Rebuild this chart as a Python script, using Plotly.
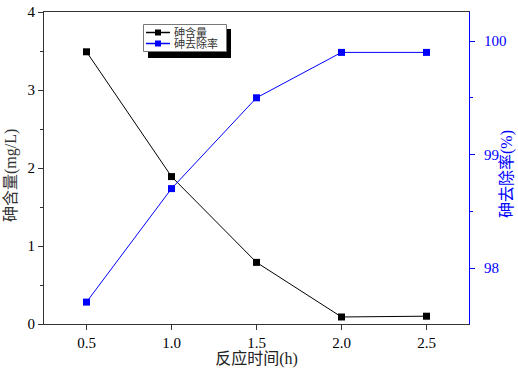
import plotly.graph_objects as go

time_h = [0.5, 1.0, 1.5, 2.0, 2.5]
arsenic_content = [3.49, 1.89, 0.79, 0.09, 0.10]
removal_rate = [97.70, 98.70, 99.50, 99.90, 99.90]

x_ticks = [0.5, 1.0, 1.5, 2.0, 2.5]
x_ticklabels = ["0.5", "1.0", "1.5", "2.0", "2.5"]
left_ticks = [0, 1, 2, 3, 4]
right_ticks = [98, 99, 100]
series_names = ["砷含量", "砷去除率"]
x_title = "反应时间(h)"
left_title = "砷含量(mg/L)"
right_title = "砷去除率(%)"

FONT = "Liberation Serif, Noto Sans CJK SC, serif"
BLUE = "#0000ff"
COLORS = ["black", BLUE]

W, H = 518, 368
L, T = 44, 12
PW, PH = 425, 312


def px(x):  # window pixel -> paper x
    return (x - L) / PW


def py(y):  # window pixel -> paper y
    return (T + PH - y) / PH


fig = go.Figure()
fig.add_trace(go.Scatter(
    x=time_h, y=arsenic_content, name=series_names[0], mode="lines+markers",
    line=dict(color=COLORS[0], width=1),
    marker=dict(symbol="square", size=7, color=COLORS[0]),
    yaxis="y"))
fig.add_trace(go.Scatter(
    x=time_h, y=removal_rate, name=series_names[1], mode="lines+markers",
    line=dict(color=COLORS[1], width=1),
    marker=dict(symbol="square", size=7, color=COLORS[1]),
    yaxis="y2"))

fig.update_layout(
    width=W, height=H,
    margin=dict(l=L, r=W - L - PW, t=T, b=H - T - PH, autoexpand=False),
    paper_bgcolor="white", plot_bgcolor="rgba(0,0,0,0)",
    font=dict(family=FONT, size=15, color="black"),
    showlegend=False,
    xaxis=dict(range=[0.25, 2.75], tickvals=x_ticks, ticktext=x_ticklabels,
               showline=True, linecolor="#333333", linewidth=1, mirror=True,
               ticks="outside", ticklen=5, tickcolor="#333333",
               showgrid=False, zeroline=False, automargin=False,
               ticklabeloverflow="allow",
               title=dict(text=x_title, standoff=0, font=dict(size=16, color="#222222"))),
    yaxis=dict(range=[0, 4.0001], tickvals=left_ticks,
               showline=True, linecolor="#333333", linewidth=1,
               ticks="outside", ticklen=5, tickcolor="#333333",
               minor=dict(dtick=0.5, ticks="outside", ticklen=3, tickcolor="#333333"),
               showgrid=False, zeroline=False, automargin=False,
               ticklabeloverflow="allow"),
    yaxis2=dict(range=[97.507, 100.256], tickvals=right_ticks,
                overlaying="y", side="right",
                showline=True, linecolor=BLUE, linewidth=1,
                ticks="outside", ticklen=5, tickcolor=BLUE,
                tickfont=dict(color=BLUE), ticklabelstandoff=6,
                minor=dict(dtick=0.5, ticks="outside", ticklen=3, tickcolor=BLUE),
                showgrid=False, zeroline=False, automargin=False,
                ticklabeloverflow="allow"),
)

annotations = [
    dict(xref="paper", yref="paper", x=px(11), y=py(176), textangle=-90,
         xanchor="center", yanchor="middle", showarrow=False,
         text=left_title, font=dict(size=16, color="#333333", family=FONT)),
    dict(xref="paper", yref="paper", x=px(507), y=py(174), textangle=-90,
         xanchor="center", yanchor="middle", showarrow=False,
         text=right_title, font=dict(size=16, color=BLUE, family=FONT)),
]

# hand-drawn legend in the reference's style (box with drop shadow)
shapes = [
    dict(type="rect", xref="paper", yref="paper",
         x0=px(148), x1=px(231), y0=py(58), y1=py(29),
         fillcolor="black", line=dict(width=0), layer="above"),
    dict(type="rect", xref="paper", yref="paper",
         x0=px(143.5), x1=px(226.5), y0=py(51.5), y1=py(24.5),
         fillcolor="white", line=dict(width=1, color="#777777"), layer="above"),
]
for i, (name, col) in enumerate(zip(series_names, COLORS)):
    yc = 32.5 + 11 * i
    shapes.append(dict(type="line", xref="paper", yref="paper",
                       x0=px(146), x1=px(170), y0=py(yc), y1=py(yc),
                       line=dict(color=col, width=1.5), layer="above"))
    shapes.append(dict(type="rect", xref="paper", yref="paper",
                       x0=px(155), x1=px(161), y0=py(yc + 3), y1=py(yc - 3),
                       fillcolor=col, line=dict(width=0), layer="above"))
    annotations.append(dict(xref="paper", yref="paper", x=px(173), y=py(yc),
                            xanchor="left", yanchor="middle", showarrow=False,
                            borderpad=0,
                            text=name, font=dict(size=11, color="#333333", family=FONT)))
fig.update_layout(shapes=shapes, annotations=annotations)

# remove the browser's default 8px body margin so the figure fills the window exactly
fig.write_html("out.html", config={"displayModeBar": False},
               post_script="document.body.style.margin='0';document.body.style.padding='0';")
